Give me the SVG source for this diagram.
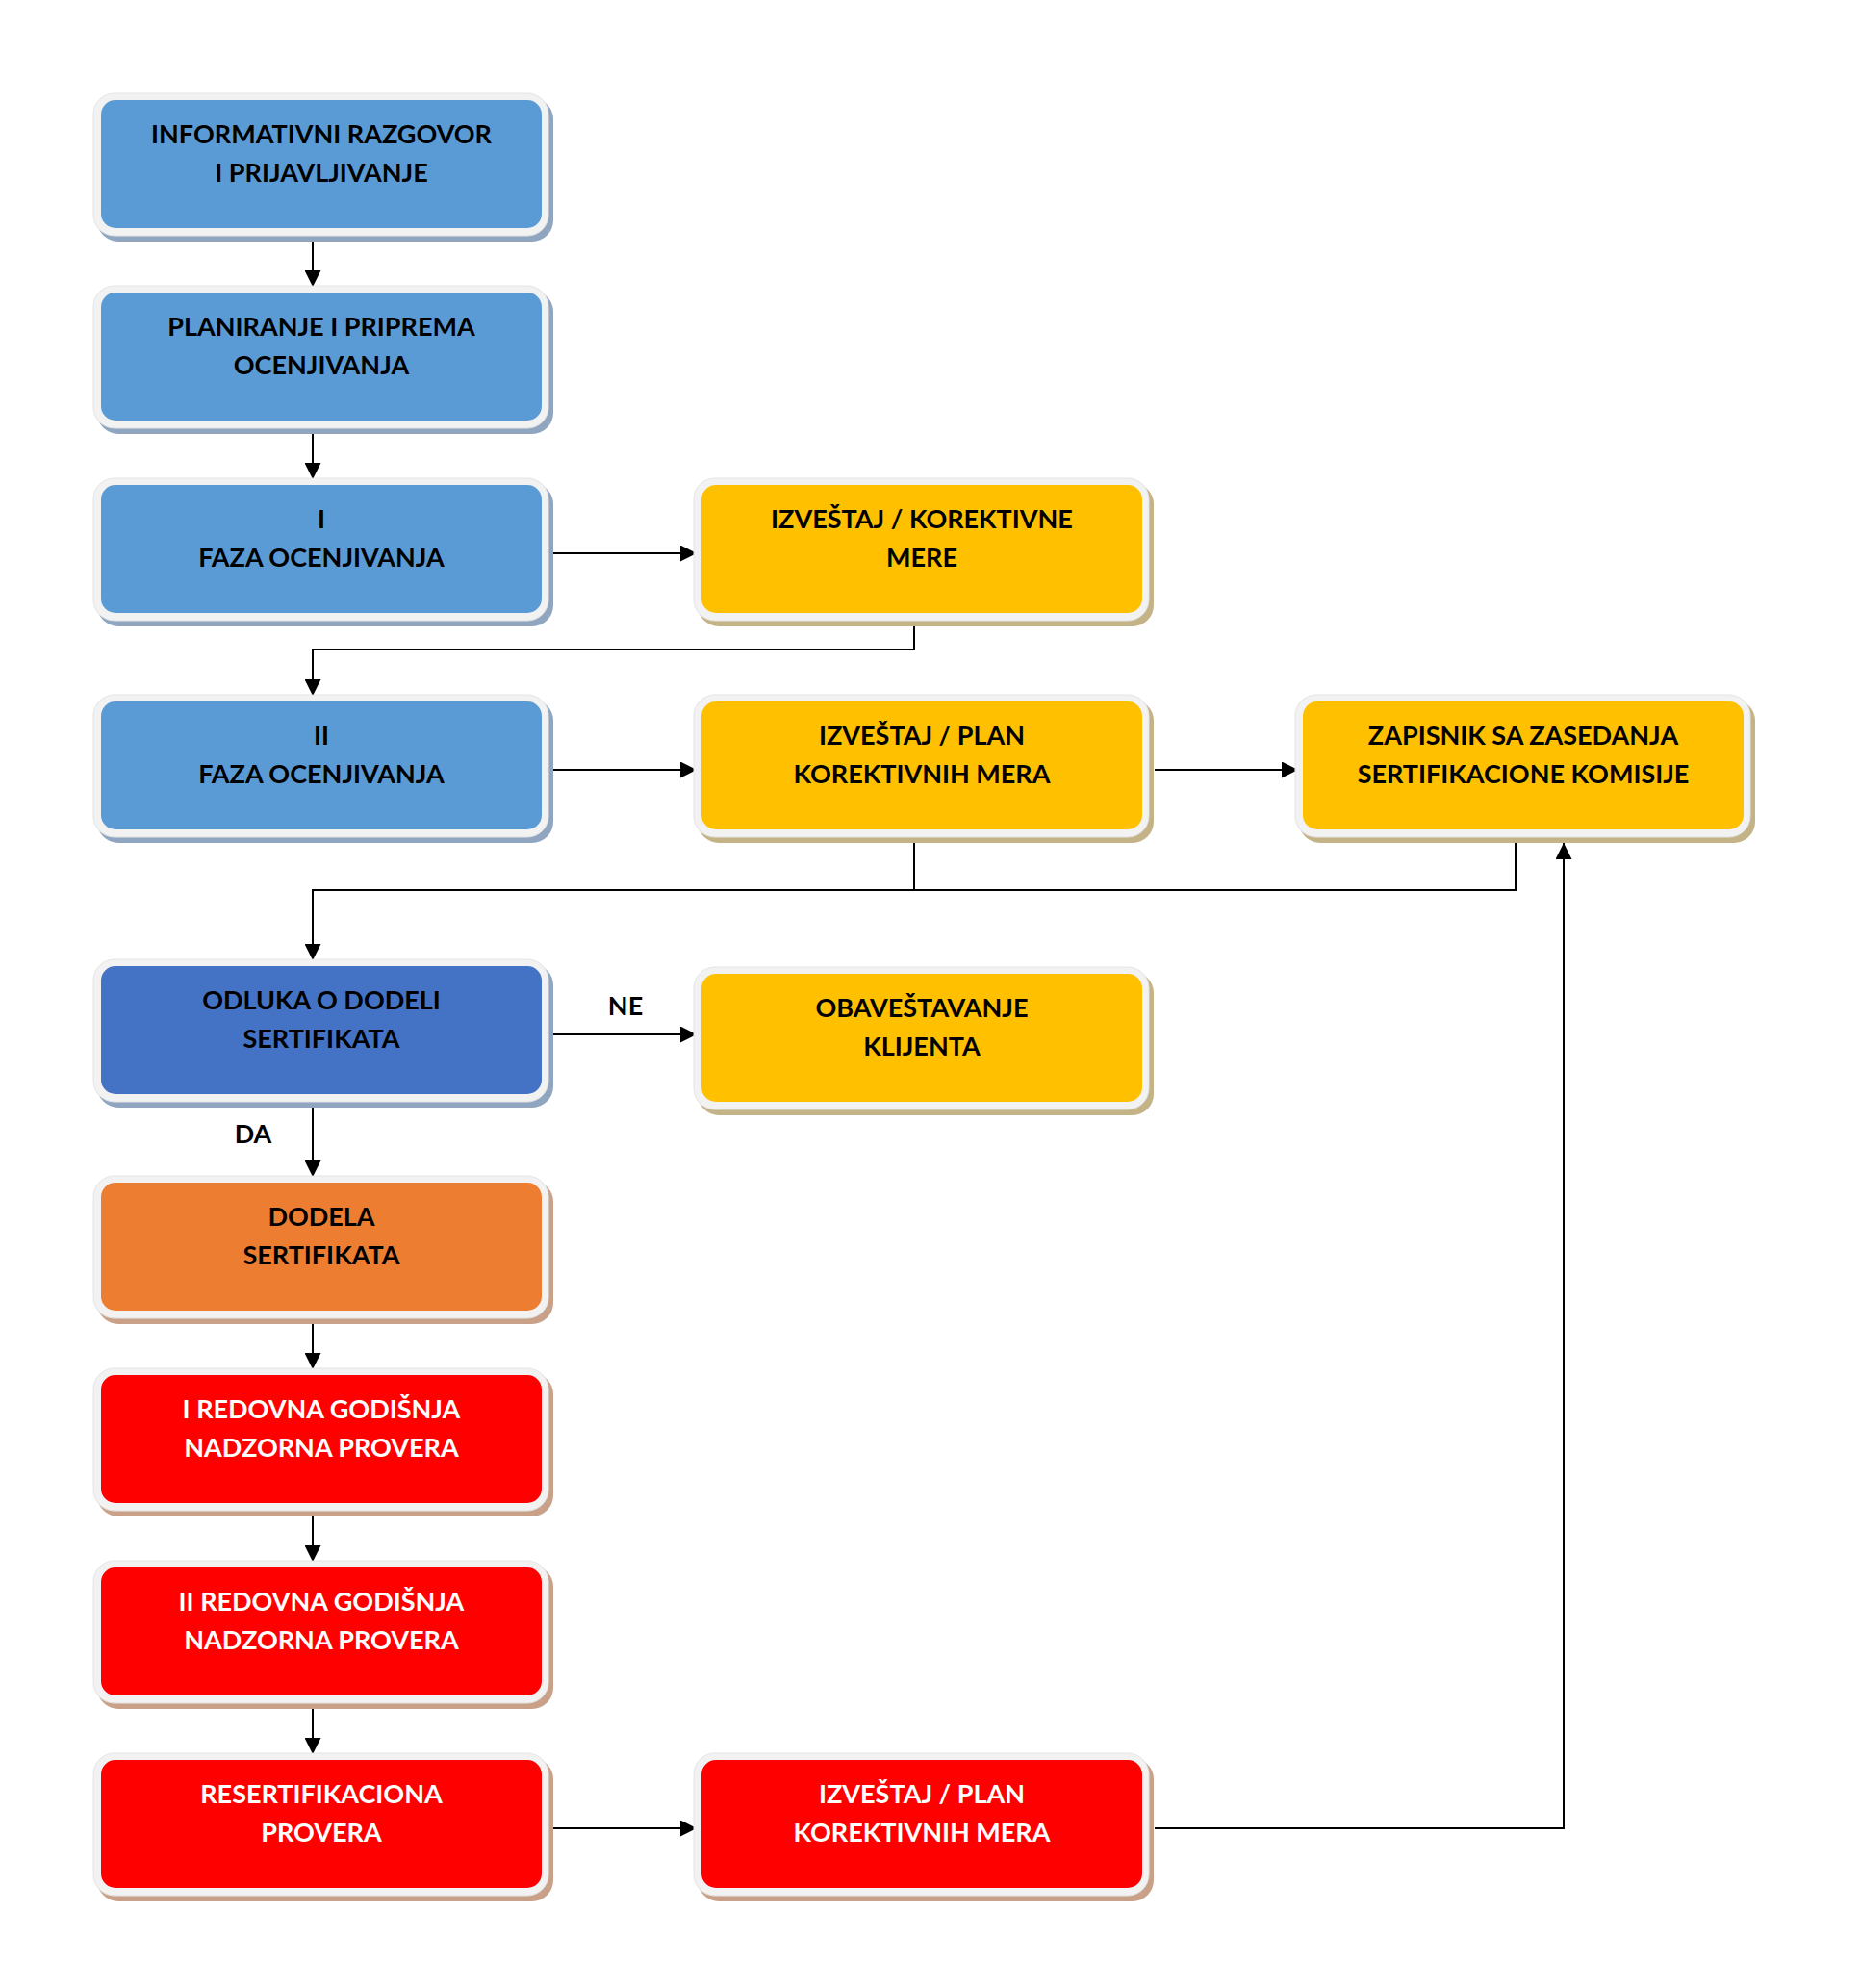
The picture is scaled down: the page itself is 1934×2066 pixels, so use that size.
<svg xmlns="http://www.w3.org/2000/svg" width="1934" height="2066" viewBox="0 0 1934 2066">
<style>
  .ring { fill: #f2f2f2; stroke: #e4e4e4; stroke-width: 1; }
  .sh-blue { fill: #8fa5c0; }
  .sh-yel { fill: #c4b386; }
  .sh-red { fill: #c9a189; }
  .blue { fill: #5b9bd5; }
  .dblue { fill: #4472c4; }
  .yel { fill: #ffc000; }
  .org { fill: #ed7d31; }
  .red { fill: #ff0000; }
  text { font-family: Lato, "Open Sans", "Liberation Sans", sans-serif; font-weight: 700; font-size: 27px; text-anchor: middle; fill: #000; }
  text.w { fill: #ffffff; }
  .conn { fill: none; stroke: #000; stroke-width: 2; }
</style>
<defs>
  <marker id="arr" markerUnits="userSpaceOnUse" markerWidth="17" markerHeight="17" viewBox="0 0 10 10" refX="10" refY="5" orient="auto">
    <path d="M0,0 L10,5 L0,10 z" fill="#000"/>
  </marker>
</defs>
<rect width="1934" height="2066" fill="#fff"/>

<g id="connectors">
  <path class="conn" d="M325,250 V298" marker-end="url(#arr)"/>
  <path class="conn" d="M325,450 V498" marker-end="url(#arr)"/>
  <path class="conn" d="M575,575 H724" marker-end="url(#arr)"/>
  <path class="conn" d="M950,650 V675 H325 V723" marker-end="url(#arr)"/>
  <path class="conn" d="M575,800 H724" marker-end="url(#arr)"/>
  <path class="conn" d="M1200,800 H1349" marker-end="url(#arr)"/>
  <path class="conn" d="M950,875 V925"/>
  <path class="conn" d="M1575,875 V925 H325 V998" marker-end="url(#arr)"/>
  <path class="conn" d="M575,1075 H724" marker-end="url(#arr)"/>
  <path class="conn" d="M325,1150 V1223" marker-end="url(#arr)"/>
  <path class="conn" d="M325,1375 V1423" marker-end="url(#arr)"/>
  <path class="conn" d="M325,1575 V1623" marker-end="url(#arr)"/>
  <path class="conn" d="M325,1775 V1823" marker-end="url(#arr)"/>
  <path class="conn" d="M575,1900 H724" marker-end="url(#arr)"/>
  <path class="conn" d="M1200,1900 H1625 V876" marker-end="url(#arr)"/>
  <text x="650" y="1055">NE</text>
  <text x="263" y="1188">DA</text>
</g>

<g id="n1" transform="translate(105,104)">
  <rect class="sh-blue" x="-4" y="-2" width="474" height="149" rx="22"/>
  <rect class="ring" x="-8" y="-7" width="473" height="148" rx="22"/>
  <rect class="blue" x="0" y="0" width="458" height="133" rx="15"/>
  <text x="229" y="45">INFORMATIVNI RAZGOVOR</text>
  <text x="229" y="85">I PRIJAVLJIVANJE</text>
</g>
<g id="n2" transform="translate(105,304)">
  <rect class="sh-blue" x="-4" y="-2" width="474" height="149" rx="22"/>
  <rect class="ring" x="-8" y="-7" width="473" height="148" rx="22"/>
  <rect class="blue" x="0" y="0" width="458" height="133" rx="15"/>
  <text x="229" y="45">PLANIRANJE I PRIPREMA</text>
  <text x="229" y="85">OCENJIVANJA</text>
</g>
<g id="n3" transform="translate(105,504)">
  <rect class="sh-blue" x="-4" y="-2" width="474" height="149" rx="22"/>
  <rect class="ring" x="-8" y="-7" width="473" height="148" rx="22"/>
  <rect class="blue" x="0" y="0" width="458" height="133" rx="15"/>
  <text x="229" y="45">I</text>
  <text x="229" y="85">FAZA OCENJIVANJA</text>
</g>
<g id="n4" transform="translate(729,504)">
  <rect class="sh-yel" x="-4" y="-2" width="474" height="149" rx="22"/>
  <rect class="ring" x="-8" y="-7" width="473" height="148" rx="22"/>
  <rect class="yel" x="0" y="0" width="458" height="133" rx="15"/>
  <text x="229" y="45">IZVEŠTAJ / KOREKTIVNE</text>
  <text x="229" y="85">MERE</text>
</g>
<g id="n5" transform="translate(105,729)">
  <rect class="sh-blue" x="-4" y="-2" width="474" height="149" rx="22"/>
  <rect class="ring" x="-8" y="-7" width="473" height="148" rx="22"/>
  <rect class="blue" x="0" y="0" width="458" height="133" rx="15"/>
  <text x="229" y="45">II</text>
  <text x="229" y="85">FAZA OCENJIVANJA</text>
</g>
<g id="n6" transform="translate(729,729)">
  <rect class="sh-yel" x="-4" y="-2" width="474" height="149" rx="22"/>
  <rect class="ring" x="-8" y="-7" width="473" height="148" rx="22"/>
  <rect class="yel" x="0" y="0" width="458" height="133" rx="15"/>
  <text x="229" y="45">IZVEŠTAJ / PLAN</text>
  <text x="229" y="85">KOREKTIVNIH MERA</text>
</g>
<g id="n7" transform="translate(1354,729)">
  <rect class="sh-yel" x="-4" y="-2" width="474" height="149" rx="22"/>
  <rect class="ring" x="-8" y="-7" width="473" height="148" rx="22"/>
  <rect class="yel" x="0" y="0" width="458" height="133" rx="15"/>
  <text x="229" y="45">ZAPISNIK SA ZASEDANJA</text>
  <text x="229" y="85">SERTIFIKACIONE KOMISIJE</text>
</g>
<g id="n8" transform="translate(105,1004)">
  <rect class="sh-blue" x="-4" y="-2" width="474" height="149" rx="22"/>
  <rect class="ring" x="-8" y="-7" width="473" height="148" rx="22"/>
  <rect class="dblue" x="0" y="0" width="458" height="133" rx="15"/>
  <text x="229" y="45">ODLUKA O DODELI</text>
  <text x="229" y="85">SERTIFIKATA</text>
</g>
<g id="n9" transform="translate(729,1012)">
  <rect class="sh-yel" x="-4" y="-2" width="474" height="149" rx="22"/>
  <rect class="ring" x="-8" y="-7" width="473" height="148" rx="22"/>
  <rect class="yel" x="0" y="0" width="458" height="133" rx="15"/>
  <text x="229" y="45">OBAVEŠTAVANJE</text>
  <text x="229" y="85">KLIJENTA</text>
</g>
<g id="n10" transform="translate(105,1229)">
  <rect class="sh-red" x="-4" y="-2" width="474" height="149" rx="22"/>
  <rect class="ring" x="-8" y="-7" width="473" height="148" rx="22"/>
  <rect class="org" x="0" y="0" width="458" height="133" rx="15"/>
  <text x="229" y="45">DODELA</text>
  <text x="229" y="85">SERTIFIKATA</text>
</g>
<g id="n11" transform="translate(105,1429)">
  <rect class="sh-red" x="-4" y="-2" width="474" height="149" rx="22"/>
  <rect class="ring" x="-8" y="-7" width="473" height="148" rx="22"/>
  <rect class="red" x="0" y="0" width="458" height="133" rx="15"/>
  <text class="w" x="229" y="45">I REDOVNA GODIŠNJA</text>
  <text class="w" x="229" y="85">NADZORNA PROVERA</text>
</g>
<g id="n12" transform="translate(105,1629)">
  <rect class="sh-red" x="-4" y="-2" width="474" height="149" rx="22"/>
  <rect class="ring" x="-8" y="-7" width="473" height="148" rx="22"/>
  <rect class="red" x="0" y="0" width="458" height="133" rx="15"/>
  <text class="w" x="229" y="45">II REDOVNA GODIŠNJA</text>
  <text class="w" x="229" y="85">NADZORNA PROVERA</text>
</g>
<g id="n13" transform="translate(105,1829)">
  <rect class="sh-red" x="-4" y="-2" width="474" height="149" rx="22"/>
  <rect class="ring" x="-8" y="-7" width="473" height="148" rx="22"/>
  <rect class="red" x="0" y="0" width="458" height="133" rx="15"/>
  <text class="w" x="229" y="45">RESERTIFIKACIONA</text>
  <text class="w" x="229" y="85">PROVERA</text>
</g>
<g id="n14" transform="translate(729,1829)">
  <rect class="sh-red" x="-4" y="-2" width="474" height="149" rx="22"/>
  <rect class="ring" x="-8" y="-7" width="473" height="148" rx="22"/>
  <rect class="red" x="0" y="0" width="458" height="133" rx="15"/>
  <text class="w" x="229" y="45">IZVEŠTAJ / PLAN</text>
  <text class="w" x="229" y="85">KOREKTIVNIH MERA</text>
</g>
</svg>
